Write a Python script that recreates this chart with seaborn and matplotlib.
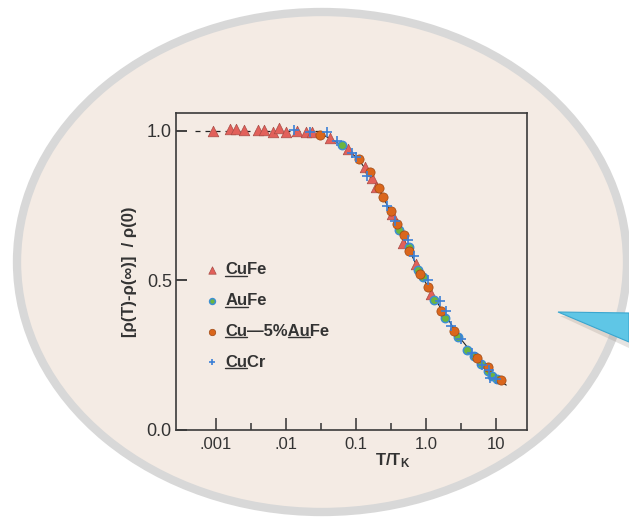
"""
Universal Kondo resistivity curve for several dilute alloys,
drawn inside a speech-bubble style oval.
"""

import matplotlib
matplotlib.use('Agg')
import matplotlib.pyplot as plt
from matplotlib.patches import Ellipse, Polygon
from matplotlib.lines import Line2D
import seaborn as sns
import pandas as pd

sns.set_style('ticks')
plt.rcParams['font.family'] = ['Liberation Sans', 'DejaVu Sans']
plt.rcParams['mathtext.fontset'] = 'custom'
plt.rcParams['mathtext.rm'] = 'Liberation Sans'
plt.rcParams['mathtext.bf'] = 'Liberation Sans:bold'
plt.rcParams['mathtext.it'] = 'Liberation Sans:italic'

# Data (T/T_K, normalised resistivity)
cufe_x = [0.00091, 0.00158, 0.00193, 0.00251, 0.00402, 0.0049, 0.00659,
          0.00794, 0.0099, 0.0142, 0.0191, 0.0233, 0.0425, 0.0777, 0.135,
          0.171, 0.193, 0.330, 0.474, 0.713, 1.17]
cufe_y = [1.000, 1.006, 1.006, 1.002, 1.002, 1.002, 0.997, 1.008, 0.995,
          1.000, 0.997, 0.997, 0.975, 0.938, 0.880, 0.843, 0.813, 0.721,
          0.624, 0.554, 0.453]

aufe_x = [0.0637, 0.411, 0.562, 0.760, 0.897, 1.31, 1.84, 2.82, 3.83, 4.77,
          6.01, 7.56, 8.71, 10.4]
aufe_y = [0.952, 0.668, 0.610, 0.536, 0.510, 0.433, 0.373, 0.311, 0.268,
          0.246, 0.221, 0.197, 0.180, 0.169]

cuaufe_x = [0.0306, 0.111, 0.156, 0.213, 0.243, 0.311, 0.385, 0.477, 0.572,
            0.820, 1.07, 1.64, 2.54, 5.39, 7.61, 11.7]
cuaufe_y = [0.986, 0.904, 0.862, 0.808, 0.778, 0.733, 0.687, 0.652, 0.598,
            0.522, 0.478, 0.398, 0.331, 0.239, 0.210, 0.167]

cucr_x = [0.0130, 0.0220, 0.0380, 0.0528, 0.0869, 0.101, 0.142, 0.279, 0.361,
          0.553, 0.683, 1.06, 1.56, 1.93, 2.30, 3.19, 4.47, 6.25, 7.82, 8.21,
          10.0]
cucr_y = [1.002, 0.997, 0.997, 0.967, 0.927, 0.913, 0.848, 0.747, 0.698,
          0.635, 0.582, 0.500, 0.432, 0.399, 0.348, 0.305, 0.256, 0.217,
          0.200, 0.174, 0.170]

# Guide curve through the points, and the dashed low-T plateau
curve_x = [0.03, 0.05, 0.08, 0.12, 0.2, 0.3, 0.5, 0.7, 1.0, 1.5, 2.0, 3.0,
           5.0, 7.0, 10.0, 14.0]
curve_y = [0.992, 0.965, 0.935, 0.89, 0.815, 0.737, 0.63, 0.56, 0.49, 0.42,
           0.375, 0.31, 0.245, 0.21, 0.172, 0.15]
plateau_x = [0.0005, 0.03]
plateau_y = [1.0, 1.0]

xtick_vals = [0.001, 0.01, 0.1, 1.0, 10.0]
xtick_labels = ['.001', '.01', '0.1', '1.0', '10']
xminor_vals = [0.00316, 0.0316, 0.316, 3.16]
ytick_vals = [0.0, 0.5, 1.0]
ytick_labels = ['0.0', '0.5', '1.0']

labels = ['CuFe', 'AuFe', 'Cu\u20145%AuFe', 'CuCr']
# (start, end) character ranges to underline in each legend label
underlined = [[(0, 2)], [(0, 2)], [(0, 2), (5, 7)], [(0, 2)]]

fig = plt.figure(figsize=(6.29, 5.2), dpi=100)
fig.patch.set_facecolor('white')

# speech bubble background
W, H = 629.0, 520.0
bubble = Ellipse((322 / W, 1 - 262 / H), 610 / W, 500 / H,
                 transform=fig.transFigure, facecolor='#f4ebe4',
                 edgecolor='#d8d8d8', linewidth=6, zorder=-3)
fig.add_artist(bubble)
shadow = Polygon([(560 / W, 1 - 316 / H), (W / W, 1 - 318 / H),
                  (W / W, 1 - 348 / H)], closed=True,
                 transform=fig.transFigure, facecolor='#9a9088', alpha=0.25,
                 edgecolor='none', zorder=-2)
fig.add_artist(shadow)
arrow = Polygon([(558 / W, 1 - 312 / H), (W / W, 1 - 313 / H),
                 (W / W, 1 - 342 / H)], closed=True,
                transform=fig.transFigure, facecolor='#5fc6e6',
                edgecolor='#3aa6cf', linewidth=0.8, zorder=-1)
fig.add_artist(arrow)

ax = fig.add_axes([176 / W, 1 - 430 / H, 351 / W, 317 / H])
ax.set_facecolor('none')

# guide lines
sns.lineplot(x=plateau_x, y=plateau_y, ax=ax, color='#222222', lw=0.9,
             linestyle=(0, (4, 4)), sort=False, zorder=1)
sns.lineplot(x=curve_x, y=curve_y, ax=ax, color='#222222', lw=0.8,
             sort=False, zorder=1)

# data series
styles = [
    (cufe_x, cufe_y, dict(marker='^', s=58, color='#e2605a',
                          edgecolor='#a94c46', linewidth=0.5)),
    (aufe_x, aufe_y, dict(marker='o', s=36, color='#6cb53f',
                          edgecolor='#3c8fd2', linewidth=1.1)),
    (cuaufe_x, cuaufe_y, dict(marker='o', s=44, color='#da661c',
                              edgecolor='#9e4812', linewidth=0.5)),
    (cucr_x, cucr_y, dict(marker='+', s=50, color='#3c80d6',
                          linewidth=1.2)),
]
handles = []
for xs, ys, kw in styles:
    df = pd.DataFrame({'x': xs, 'y': ys})
    sns.scatterplot(data=df, x='x', y='y', ax=ax, zorder=3, **kw)
    handles.append(ax.collections[-1])

ax.set_xscale('log')
ax.set_xlim(2.68e-4, 27.7)
ax.set_ylim(0, 1.059)

ax.set_xticks(xtick_vals)
ax.set_xticklabels(xtick_labels)
ax.set_xticks(xminor_vals, minor=True)
ax.set_xticklabels([], minor=True)
ax.set_yticks(ytick_vals)
ax.set_yticklabels(ytick_labels)

ax.tick_params(axis='x', which='major', direction='in', length=9, width=1.1,
               labelsize=12, pad=5, colors='#333333')
ax.tick_params(axis='x', which='minor', direction='in', length=5, width=1.1,
               colors='#333333')
ax.tick_params(axis='y', which='major', direction='in', length=8, width=1.3,
               labelsize=13, pad=3, colors='#333333')
ax.tick_params(axis='y', which='minor', left=False)
for side in ['top', 'right', 'left', 'bottom']:
    ax.spines[side].set_visible(True)
    ax.spines[side].set_color('#3a3a3a')
    ax.spines[side].set_linewidth(1.2)

ax.set_xlabel(r'$\mathbf{T/T_K}$', fontsize=12, color='#333333')
ax.xaxis.set_label_coords(0.618, -0.068)
ax.set_ylabel('[ρ(T)-ρ(∞)]  / ρ(0)', fontsize=12, fontweight='bold',
              color='#333333')
ax.yaxis.set_label_coords(-0.112, 0.5)

leg = ax.legend(handles, labels, loc='upper left',
                bbox_to_anchor=(0.06, 0.55), frameon=False,
                prop={'size': 12, 'weight': 'bold'}, labelspacing=0.95,
                handletextpad=0.3, handlelength=1.0, markerscale=0.7,
                borderaxespad=0)
for t in leg.get_texts():
    t.set_color('#333333')


# matplotlib text has no underline, so draw short lines under the element
def underline_legend(fig, leg, ranges):
    fig.canvas.draw()
    renderer = fig.canvas.get_renderer()
    for text, spans in zip(leg.get_texts(), ranges):
        box = text.get_window_extent(renderer)
        s = text.get_text()
        prop = text.get_fontproperties()
        for a, b in spans:
            x0 = renderer.get_text_width_height_descent(s[:a], prop, False)[0] if a else 0
            x1 = renderer.get_text_width_height_descent(s[:b], prop, False)[0]
            y = box.y0 + 1.5
            fig.add_artist(Line2D([box.x0 + x0, box.x0 + x1], [y, y],
                                  transform=None, color='#333333', lw=1.0))


underline_legend(fig, leg, underlined)

fig.savefig('out.png', dpi=100)
